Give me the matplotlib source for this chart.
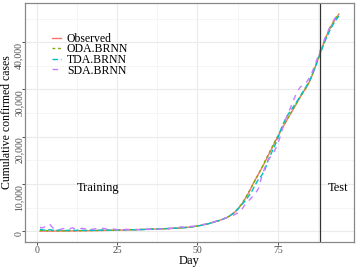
import matplotlib
matplotlib.use("Agg")
import matplotlib.pyplot as plt
import numpy as np

days = list(range(1, 95))

observed = [
    1, 2, 3, 5, 8, 11, 15, 20, 26, 33,
    40, 48, 57, 66, 76, 87, 98, 110, 122, 135,
    149, 163, 178, 193, 209, 225, 242, 259, 277, 296,
    315, 335, 355, 376, 397, 419, 442, 466, 491, 517,
    545, 575, 608, 645, 690, 745, 810, 885, 975, 1080,
    1200, 1340, 1500, 1680, 1870, 2080, 2300, 2540, 2820, 3180,
    3650, 4250, 5000, 5900, 7000, 8200, 9600, 10900, 12100, 13300,
    14600, 16000, 17300, 18700, 20000, 21300, 22500, 23700, 24900, 26000,
    27200, 28400, 29500, 30500, 31800, 33500, 35400, 37400, 39300, 41100,
    42600, 43900, 45000, 45900,
]

oda_brnn = [
    150, 120, 90, 110, 80, 60, 70, 90, 60, 80,
    70, 90, 100, 90, 110, 120, 130, 120, 140, 150,
    160, 170, 190, 210, 220, 240, 250, 270, 290, 300,
    320, 340, 350, 380, 400, 420, 440, 470, 490, 520,
    550, 580, 610, 650, 700, 760, 820, 890, 980, 1090,
    1210, 1350, 1500, 1690, 1880, 2100, 2310, 2560, 2840, 3200,
    3700, 4300, 5100, 6000, 7100, 8300, 9500, 10800, 12100, 13400,
    14800, 16100, 17500, 18800, 20100, 21400, 22600, 23800, 24900, 26100,
    27300, 28400, 29500, 30600, 31900, 33600, 35500, 37300, 39200, 41000,
    42500, 43900, 45100, 46000,
]

tda_brnn = [
    400, 250, 180, 300, 200, 150, 250, 200, 120, 180,
    200, 150, 220, 180, 150, 250, 200, 150, 200, 230,
    250, 220, 200, 260, 280, 250, 230, 300, 320, 280,
    300, 350, 330, 380, 410, 400, 430, 480, 470, 520,
    560, 570, 620, 640, 700, 750, 800, 900, 970, 1100,
    1200, 1350, 1520, 1680, 1900, 2100, 2300, 2550, 2850, 3250,
    3700, 4300, 5000, 5800, 6500, 7500, 8500, 9800, 11000, 11800,
    13000, 15000, 16500, 18000, 19600, 21600, 23200, 24500, 25500, 26500,
    27500, 28600, 29700, 30800, 32000, 33600, 35300, 37200, 39000, 40700,
    42200, 43500, 44600, 45500,
]

sda_brnn = [
    800, 700, 1200, 1500, 700, 400, 300, 500, 600, 400,
    700, 500, 400, 600, 500, 700, 400, 450, 600, 650,
    550, 400, 350, 450, 300, 250, 300, 400, 350, 300,
    350, 300, 450, 400, 350, 500, 450, 400, 550, 600,
    500, 650, 700, 800, 900, 850, 900, 1000, 1050, 1200,
    1300, 1450, 1600, 1750, 1950, 2150, 2350, 2600, 2850, 3050,
    3300, 3650, 4000, 4800, 5800, 6500, 7200, 8000, 9000, 11500,
    13500, 15000, 16000, 17000, 18500, 20500, 23000, 24600, 26200, 27900,
    29500, 30500, 31000, 31600, 32600, 34200, 36000, 37900, 39700, 41400,
    42900, 44200, 45300, 46200,
]

series_names = ["Observed", "ODA.BRNN", "TDA.BRNN", "SDA.BRNN"]
series_values = [observed, oda_brnn, tda_brnn, sda_brnn]
colors = ["#F8766D", "#7CAE00", "#00BFC4", "#C77CFF"]
dashes = [None, (2, 2), (4, 2), (4, 4)]

split_day = 88
x_ticks = [0, 25, 50, 75]
y_ticks = [0, 10000, 20000, 30000, 40000]
y_tick_labels = ["0", "10,000", "20,000", "30,000", "40,000"]

plt.rcParams["font.family"] = ["Liberation Serif", "DejaVu Serif"]

fig = plt.figure(figsize=(3.57, 2.68), dpi=100)
ax = fig.add_axes([0.070, 0.097, 0.921, 0.892])

for name, vals, c, d in zip(series_names, series_values, colors, dashes):
    line, = ax.plot(days, vals, color=c, lw=1.0, label=name)
    if d is not None:
        line.set_dashes(d)

ax.axvline(split_day, color="#333333", lw=0.9)

ax.set_xlim(-3.65, 98.65)
ax.set_ylim(-2300, 48300)
ax.set_xticks(x_ticks)
ax.set_xticks([12.5, 37.5, 62.5, 87.5], minor=True)
ax.set_yticks(y_ticks)
ax.set_yticklabels(y_tick_labels, rotation=90, va="top", ha="center")
ax.set_yticks([5000, 15000, 25000, 35000, 45000], minor=True)
ax.grid(which="major", color="#EBEBEB", lw=0.8)
ax.grid(which="minor", color="#F2F2F2", lw=0.5)
ax.set_axisbelow(True)
ax.tick_params(which="major", length=2.0, width=0.6, color="#333333",
               labelsize=7, labelcolor="#4D4D4D", pad=0.6)
ax.tick_params(axis="y", which="major", pad=2.3)
ax.tick_params(which="minor", length=0)
for s in ax.spines.values():
    s.set_color("#888888")
    s.set_linewidth(0.9)

ax.set_xlabel("Day", fontsize=9, labelpad=0)
ax.set_ylabel("Cumulative confirmed cases", fontsize=8.5)
ax.yaxis.set_label_coords(-0.035, 0.5)

ax.text(19, 9200, "Training", fontsize=9, ha="center", va="center")
ax.text(93.8, 9200, "Test", fontsize=9, ha="center", va="center")

leg = ax.legend(loc="upper left", bbox_to_anchor=(0.075, 0.885), frameon=False,
                fontsize=8.5, handlelength=0.75, handletextpad=0.5,
                labelspacing=-0.12, borderpad=0.2, borderaxespad=0)

fig.savefig("out.png", dpi=100)
